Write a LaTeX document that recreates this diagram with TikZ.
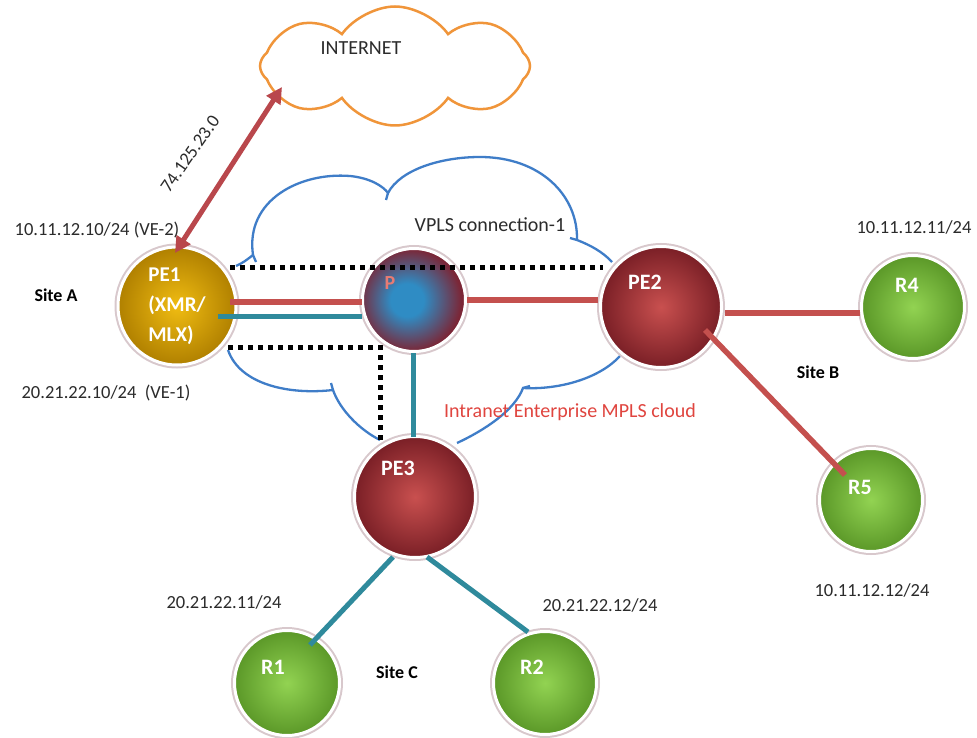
\documentclass[tikz,border=0pt]{standalone}
\usepackage{fontspec}
\setmainfont{Carlito}
\usetikzlibrary{arrows.meta,shapes.symbols,calc}
\definecolor{gold1}{HTML}{F0BC12}
\definecolor{gold2}{HTML}{B08000}
\definecolor{red1}{HTML}{C9504F}
\definecolor{red2}{HTML}{7A1F26}
\definecolor{grn1}{HTML}{92D352}
\definecolor{grn2}{HTML}{5B9828}
\definecolor{pblue}{HTML}{2F8CC4}
\definecolor{pred}{HTML}{7B2636}
\definecolor{linered}{HTML}{C4504E}
\definecolor{arrred}{HTML}{B9474C}
\definecolor{lineteal}{HTML}{2F8A9C}
\definecolor{cloudblue}{HTML}{3F7DC8}
\definecolor{cloudorange}{HTML}{F0953A}
\definecolor{txt}{HTML}{2B2B2B}
\definecolor{mplsred}{HTML}{E0453F}
\definecolor{plabel}{HTML}{E77B73}
\definecolor{ringc}{HTML}{D8C8CC}
\pgfdeclareradialshading{pshade}{\pgfpoint{-4bp}{0bp}}{color(0bp)=(pblue); color(8bp)=(pblue); color(25bp)=(pred); color(50bp)=(pred)}
\tikzset{
  ball/.style={circle, draw=white, line width=3pt, preaction={draw=ringc, line width=7pt}, inner sep=0pt},
  goldball/.style={ball, inner color=gold1, outer color=gold2, minimum size=#1},
  redball/.style={ball, inner color=red1, outer color=red2, minimum size=#1},
  grnball/.style={ball, inner color=grn1, outer color=grn2, minimum size=#1},
  pball/.style={ball, shade, shading=pshade, minimum size=#1},
  ntext/.style={text=white, font=\bfseries\fontsize{22}{26}\selectfont, inner sep=0pt},
  lab/.style={text=txt, font=\fontsize{18.5}{22}\selectfont, inner sep=0pt},
  biglab/.style={text=txt, font=\fontsize{20}{24}\selectfont, inner sep=0pt},
  sitelab/.style={text=black, font=\bfseries\fontsize{18}{22}\selectfont, inner sep=0pt},
  redl/.style={draw=linered, line width=5.5pt},
  teall/.style={draw=lineteal, line width=5pt},
  dots/.style={draw=black, line width=5pt, dash pattern=on 5pt off 5pt},
  vpls/.style={draw=cloudblue, line width=2.3pt},
  inetarrow/.style={draw=arrred, line width=5pt, {Triangle[length=16pt,width=16pt]}-{Triangle[length=16pt,width=16pt]}}
}
\begin{document}
\begin{tikzpicture}[x=1pt,y=-1pt]
\useasboundingbox (0,0) rectangle (977,738);
\fill[white] (0,0) rectangle (977,738);
% blue VPLS / MPLS cloud
\draw[vpls] (236,266) .. controls (244,262) .. (253,255)
  .. controls (245,200) and (300,172) .. (350,176)
  .. controls (370,178) and (383,186) .. (388,193)
  .. controls (400,170) and (440,157) .. (480,157)
  .. controls (540,157) and (578,195) .. (577,240)
  .. controls (590,245) and (603,252) .. (612,262);
\draw[vpls] (253,255) -- (256,262);
\draw[vpls] (388,193) -- (386,200);
\draw[vpls] (577,240) -- (570,238);
\draw[vpls] (228,350) .. controls (240,385) and (290,395) .. (333,390)
  .. controls (340,410) and (360,430) .. (380,440);
\draw[vpls] (333,390) -- (331,383);
\draw[vpls] (457,443) .. controls (485,430) and (515,410) .. (523,388)
  .. controls (560,390) and (600,378) .. (620,356);
\draw[vpls] (523,388) -- (530,386);
% internet cloud
\node[cloud, draw=cloudorange, line width=2.5pt, cloud puffs=8, cloud puff arc=110, cloud ignores aspect, minimum width=270pt, minimum height=119pt, inner sep=0pt] (internet) at (395,66) {};
\node[biglab] (inet) at (361,48) {INTERNET};
% routers
\node[goldball=118pt, align=left, text=white, font=\bfseries\fontsize{21}{30}\selectfont] (PE1) at (177,306) {PE1\\(XMR/\\MLX)};
\node[pball=103pt] (P) at (414,300) {};
\node[redball=121pt] (PE2) at (661,307) {};
\node[redball=121pt] (PE3) at (415,497) {};
\node[grnball=105pt] (R1) at (287,683) {};
\node[grnball=103pt] (R2) at (545,683) {};
\node[grnball=103pt] (R4) at (913,307) {};
\node[grnball=103pt] (R5) at (871,500) {};
\node[ntext, text=plabel, font=\bfseries\fontsize{20}{24}\selectfont] (Pt) at ([shift={(-24,-17)}]P.center) {P};
\node[ntext] (PE2t) at ([shift={(-16,-25)}]PE2.center) {PE2};
\node[ntext] (PE3t) at ([shift={(-17,-29)}]PE3.center) {PE3};
\node[ntext] (R1t) at ([shift={(-14,-16)}]R1.center) {R1};
\node[ntext] (R2t) at ([shift={(-13,-16)}]R2.center) {R2};
\node[ntext] (R4t) at ([shift={(-6,-22)}]R4.center) {R4};
\node[ntext] (R5t) at ([shift={(-11,-13)}]R5.center) {R5};
% links
\draw[redl] ([shift={(53,-4)}]PE1.center) -- ([shift={(-52,2)}]P.center);
\draw[teall] ([shift={(41,10)}]PE1.center) -- ([shift={(-52,16)}]P.center);
\draw[redl] ([shift={(53,0)}]P.center) -- ([shift={(-63,-7)}]PE2.center);
\draw[redl] ([shift={(64,6)}]PE2.center) -- ([shift={(-53,6)}]R4.center);
\draw[redl] ([shift={(44,23)}]PE2.center) -- ([shift={(-26,-25)}]R5.center);
\draw[teall] ([shift={(-1,53)}]P.center) -- ([shift={(-2,-60)}]PE3.center);
\draw[teall] ([shift={(-22,60)}]PE3.center) -- ([shift={(23,-38)}]R1.center);
\draw[teall] ([shift={(12,60)}]PE3.center) -- ([shift={(-17,-51)}]R2.center);
% dotted paths
\draw[dots] ([shift={(53,-39)}]PE1.center) -- ([shift={(-58,-40)}]PE2.center);
\draw[dots] ([shift={(51,41)}]PE1.center) -| ([shift={(-35,-57)}]PE3.center);
% internet link
\draw[inetarrow] ([shift={(-2,-53)}]PE1.center) -- ([shift={(-113,21)}]internet.center);
\node[lab, rotate=55] (ip) at (190,154) {74.125.23.0};
% labels
\node[lab] (l1) at (97,230) {10.11.12.10/24 (VE-2)};
\node[sitelab] (sa) at (56,295) {Site A};
\node[lab] (l2) at (106,393) {20.21.22.10/24\ \ (VE-1)};
\node[biglab] (vplst) at (490,225) {VPLS connection-1};
\node[biglab, text=mplsred] (mpls) at (570,412) {Intranet Enterprise MPLS cloud};
\node[lab] (l3) at (914,227) {10.11.12.11/24};
\node[sitelab] (sb) at (818,372) {Site B};
\node[lab] (l4) at (872,590) {10.11.12.12/24};
\node[lab] (l5) at (224,602) {20.21.22.11/24};
\node[lab] (l6) at (600,605) {20.21.22.12/24};
\node[sitelab] (sc) at (397,672) {Site C};
\end{tikzpicture}
\end{document}
